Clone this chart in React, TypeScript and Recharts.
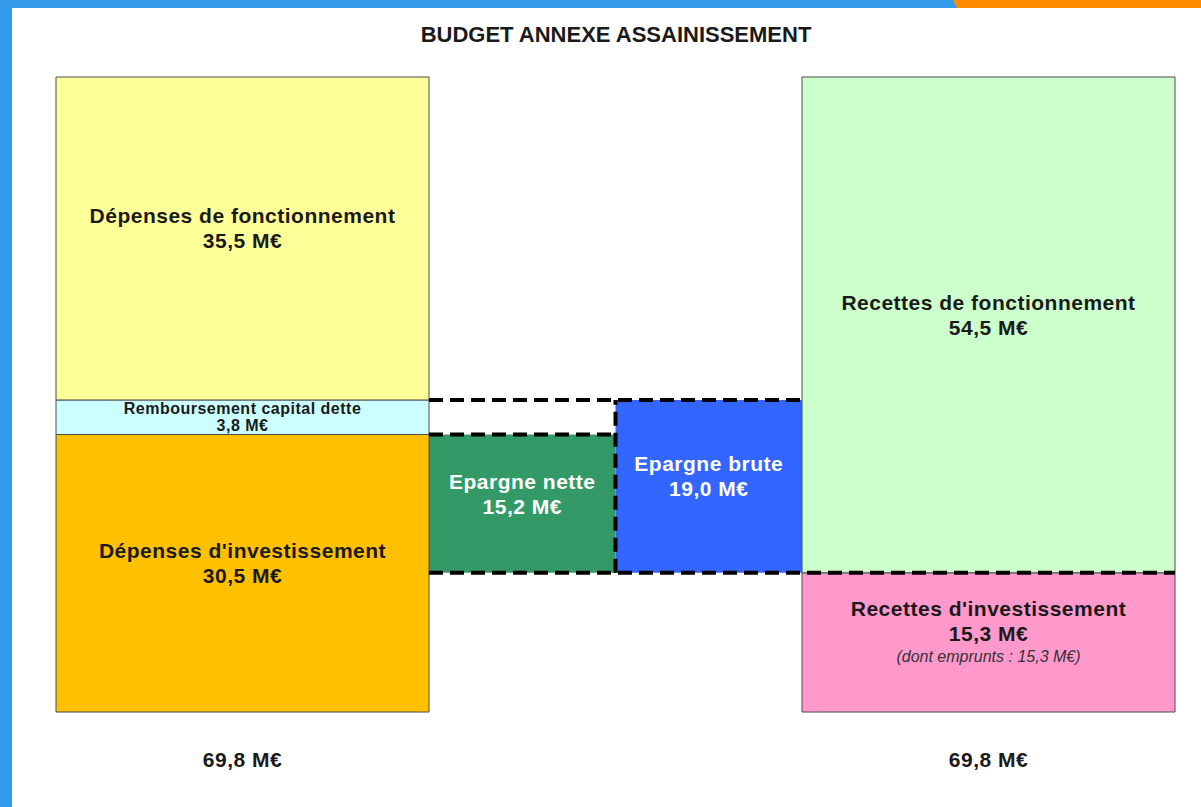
import React from "react";
import { ComposedChart, XAxis, YAxis, ReferenceArea, ReferenceLine } from "recharts";

const title = "BUDGET ANNEXE ASSAINISSEMENT";

// colonne des dépenses, de bas en haut
const depensesLabels = ["Dépenses d'investissement", "Remboursement capital dette", "Dépenses de fonctionnement"];
const depensesValues = [30.5, 3.8, 35.5];

// colonne des recettes, de bas en haut
const recettesLabels = ["Recettes d'investissement", "Recettes de fonctionnement"];
const recettesValues = [15.3, 54.5];
const recettesNotes = ["(dont emprunts : 15,3 M€)", ""];

// épargne, posée sur les recettes d'investissement
const epargneLabels = ["Epargne nette", "Epargne brute"];
const epargneValues = [15.2, 19.0];

const depensesColors = ["#FFC000", "#CCFFFF", "#FFFF99"];
const recettesColors = ["#FF99CC", "#CCFFCC"];
const epargneColors = ["#339966", "#3366FF"];

// emprise horizontale des colonnes (unités de l'axe x)
const depCol = [0, 2];
const epargneCols = [[2, 3], [3, 4]];
const recCol = [4, 6];

const FONT = "'Liberation Sans', Arial, Helvetica, sans-serif";
const fmt = (v: number) => v.toFixed(1).replace(".", ",") + " M€";
const sum = (a: number[]) => a.reduce((s, v) => s + v, 0);

type Block = {
  x1: number; x2: number; y1: number; y2: number;
  fill: string; lines: string[]; note?: string; color: string; outline: boolean;
};

function stack(labels: string[], values: number[], colors: string[], col: number[], notes?: string[]): Block[] {
  let acc = 0;
  return values.map((v, i) => {
    const b = {
      x1: col[0], x2: col[1], y1: acc, y2: acc + v, fill: colors[i],
      lines: [labels[i], fmt(v)], note: notes ? notes[i] : "", color: "#1a1a1a", outline: true,
    };
    acc += v;
    return b;
  });
}

const depBlocks = stack(depensesLabels, depensesValues, depensesColors, depCol);
const recBlocks = stack(recettesLabels, recettesValues, recettesColors, recCol, recettesNotes);
const base = recettesValues[0];
const epBlocks: Block[] = epargneValues.map((v, i) => ({
  x1: epargneCols[i][0], x2: epargneCols[i][1], y1: base, y2: base + v, fill: epargneColors[i],
  lines: [epargneLabels[i], fmt(v)], color: "#ffffff", outline: false,
}));

const totalDep = sum(depensesValues);
const totalRec = sum(recettesValues);
const netteTop = base + epargneValues[0];
const bruteTop = base + epargneValues[1];

const totalTicks = [(depCol[0] + depCol[1]) / 2, (recCol[0] + recCol[1]) / 2];
const totalLabels = [fmt(totalDep), fmt(totalRec)];

function BlockText(props: any) {
  const { viewBox, lines, note, color } = props;
  const { x, y, width, height } = viewBox;
  const cx = x + width / 2;
  // bandeau étroit : on resserre le texte pour qu'il tienne dans la case
  const small = height < 50;
  const fs = small ? 16 : 21;
  const lh = small ? 17 : 25;
  const total = lines.length * lh + (note ? 22 : 0);
  const shift = height > 120 ? -10 : 0;
  const top = y + height / 2 - total / 2 + shift;
  return (
    <g>
      {lines.map((l: string, i: number) => (
        <text key={i} x={cx} y={top + lh * i + lh / 2} textAnchor="middle" dominantBaseline="central"
          fontFamily={FONT} fontWeight="bold" fontSize={fs} letterSpacing={0.5} fill={color}>
          {l}
        </text>
      ))}
      {note ? (
        <text x={cx} y={top + lines.length * lh + 10} textAnchor="middle" dominantBaseline="central"
          fontFamily={FONT} fontStyle="italic" fontSize={16} fill="#333">
          {note}
        </text>
      ) : null}
    </g>
  );
}

const dash = { stroke: "#000", strokeWidth: 4, strokeDasharray: "14 7" };

export default function App() {
  const blocks = [...epBlocks, ...depBlocks, ...recBlocks];
  return (
    <div style={{ position: "fixed", left: 0, top: 0, width: 1201, height: 807, background: "#fff", overflow: "hidden", fontFamily: FONT }}>
      <div style={{ position: "absolute", left: 0, top: 0 }}>
        <ComposedChart width={1201} height={807} data={[]} margin={{ top: 77, left: 56, right: 26, bottom: 0 }}>
          <XAxis type="number" dataKey="x" domain={[0, 6]} allowDataOverflow ticks={totalTicks}
            tickFormatter={(v: number) => totalLabels[totalTicks.indexOf(v)] ?? ""}
            height={95} axisLine={false} tickLine={false} tickSize={0} tickMargin={40}
            tick={{ fontSize: 21, fontWeight: "bold", fill: "#1a1a1a", fontFamily: FONT, letterSpacing: 0.5 }} />
          <YAxis type="number" dataKey="y" domain={[0, totalDep]} allowDataOverflow hide />
          {blocks.map((b, i) => (
            <ReferenceArea key={i} x1={b.x1} x2={b.x2} y1={b.y1} y2={b.y2} fill={b.fill} fillOpacity={1}
              stroke={b.outline ? "#4d4d4d" : "none"} strokeWidth={1} ifOverflow="visible"
              label={(p: any) => <BlockText viewBox={p.viewBox} lines={b.lines} note={b.note} color={b.color} />} />
          ))}
          <ReferenceLine segment={[{ x: depCol[1], y: bruteTop }, { x: recCol[0], y: bruteTop }]} {...dash} ifOverflow="visible" />
          <ReferenceLine segment={[{ x: depCol[1], y: netteTop }, { x: epargneCols[1][0], y: netteTop }]} {...dash} ifOverflow="visible" />
          <ReferenceLine segment={[{ x: depCol[1], y: base }, { x: recCol[1], y: base }]} {...dash} ifOverflow="visible" />
          <ReferenceLine segment={[{ x: epargneCols[1][0], y: base }, { x: epargneCols[1][0], y: bruteTop }]} {...dash} ifOverflow="visible" />
        </ComposedChart>
      </div>
      <div style={{ position: "absolute", left: 0, top: 0, width: 960, height: 8, background: "#3399EA" }} />
      <div style={{ position: "absolute", left: 953, top: 0, width: 248, height: 8, background: "#FF8C00", clipPath: "polygon(0 0, 100% 0, 100% 100%, 4px 100%)" }} />
      <div style={{ position: "absolute", left: 0, top: 0, width: 12, height: 807, background: "#3399EA" }} />
      <div style={{ position: "absolute", left: 0, width: 1232, top: 22, textAlign: "center", fontWeight: "bold", fontSize: 22, color: "#1a1a1a" }}>
        {title}
      </div>
    </div>
  );
}
